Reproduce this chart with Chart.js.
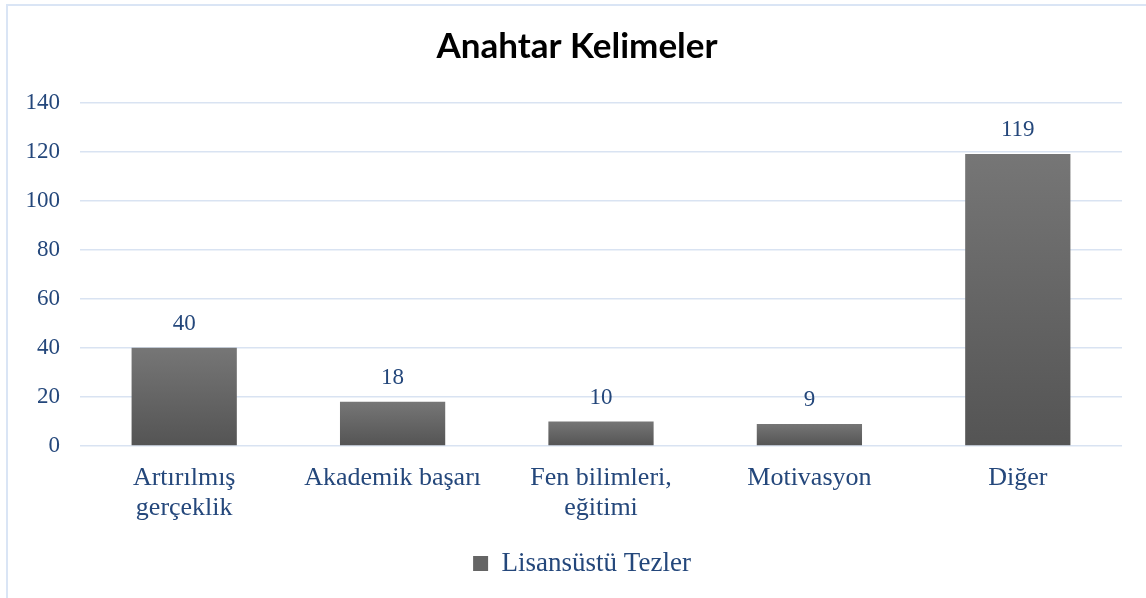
<!DOCTYPE html>
<html>
<head>
<meta charset="utf-8">
<script src="https://cdn.jsdelivr.net/npm/chart.js@4.4.1/dist/chart.umd.min.js"></script>
<style>
  html, body { margin: 0; padding: 0; background: #ffffff; overflow: hidden; }
  #wrap { position: relative; width: 1146px; height: 598px; }
  #frame { position: absolute; left: 6px; top: 4px; width: 1200px; height: 700px;
           border-left: 2px solid #dae5f5; border-top: 2px solid #dae5f5; pointer-events: none; }
  canvas { position: absolute; left: 0; top: 0; }
</style>
</head>
<body>
<div id="wrap">
  <div id="frame"></div>
  <canvas id="c" width="1146" height="598"></canvas>
</div>
<script>
const titleText = "Anahtar Kelimeler";
const seriesName = "Lisansüstü Tezler";
const categories = [["Artırılmış", "gerçeklik"], "Akademik başarı", ["Fen bilimleri,", "eğitimi"], "Motivasyon", "Diğer"];
const values = [40, 18, 10, 9, 119];
const yTicks = [0, 20, 40, 60, 80, 100, 120, 140];

const BLUE = "#24477b";

function barGradient(ctx) {
  const chart = ctx.chart;
  const ys = chart.scales && chart.scales.y;
  if (!ys || ctx.raw === undefined || !chart.chartArea) return "#666666";
  const top = ys.getPixelForValue(ctx.raw);
  const base = ys.getPixelForValue(0);
  if (!isFinite(top) || !isFinite(base) || top === base) return "#666666";
  const g = chart.ctx.createLinearGradient(0, top, 0, base);
  g.addColorStop(0, "#767676");
  g.addColorStop(1, "#545454");
  return g;
}

const dataLabels = {
  id: "dataLabels",
  afterDatasetsDraw(chart) {
    const ctx = chart.ctx;
    const meta = chart.getDatasetMeta(0);
    ctx.save();
    ctx.font = "23px 'Liberation Serif'";
    ctx.fillStyle = BLUE;
    ctx.textAlign = "center";
    ctx.textBaseline = "middle";
    meta.data.forEach((el, i) => {
      ctx.fillText(String(values[i]), el.x, el.y - 24);
    });
    ctx.restore();
  }
};

// The original frame is wider than the visible area, so its title and legend sit a little right of the plot centre.
const boxShift = {
  id: "boxShift",
  afterLayout(chart) {
    if (chart.titleBlock) { chart.titleBlock.left += 13; chart.titleBlock.right += 13; }
    if (chart.legend) { chart.legend.left += 18; chart.legend.right += 18; }
  }
};

new Chart(document.getElementById("c"), {
  type: "bar",
  data: {
    labels: categories,
    datasets: [{
      label: seriesName,
      data: values,
      backgroundColor: barGradient,
      borderWidth: 0,
      categoryPercentage: 1.0,
      barPercentage: 0.505
    }]
  },
  options: {
    responsive: false,
    animation: false,
    layout: { padding: { left: 6, right: 24, top: 4, bottom: 11 } },
    plugins: {
      title: {
        display: true,
        text: titleText,
        color: "#000000",
        font: { family: "Lato", size: 35, weight: "bold", lineHeight: 1.2 },
        padding: { top: 21.5, bottom: 35 }
      },
      legend: {
        display: true,
        position: "bottom",
        labels: {
          color: BLUE,
          font: { family: "Liberation Serif", size: 27 },
          boxWidth: 15,
          boxHeight: 15,
          padding: 10,
          generateLabels(chart) {
            return [{
              text: seriesName,
              fillStyle: "#656565",
              strokeStyle: "#656565",
              lineWidth: 0,
              hidden: false,
              datasetIndex: 0,
              fontColor: BLUE
            }];
          }
        }
      },
      tooltip: { enabled: false }
    },
    scales: {
      x: {
        grid: { display: false },
        border: { display: false },
        ticks: {
          color: BLUE,
          font: { family: "Liberation Serif", size: 26, lineHeight: 1.154 },
          padding: 9,
          maxRotation: 0,
          autoSkip: false
        },
        afterFit(scale) { scale.height = 94; }
      },
      y: {
        min: 0,
        max: 140,
        afterBuildTicks(scale) { scale.ticks = yTicks.map(v => ({ value: v })); },
        grid: { color: "#d9e3f2", lineWidth: 1.5, drawTicks: false },
        border: { display: false },
        ticks: {
          color: BLUE,
          font: { family: "Liberation Serif", size: 23 },
          padding: 20
        },
        afterFit(scale) { scale.width = 74; }
      }
    }
  },
  plugins: [dataLabels, boxShift]
});
</script>
</body>
</html>
